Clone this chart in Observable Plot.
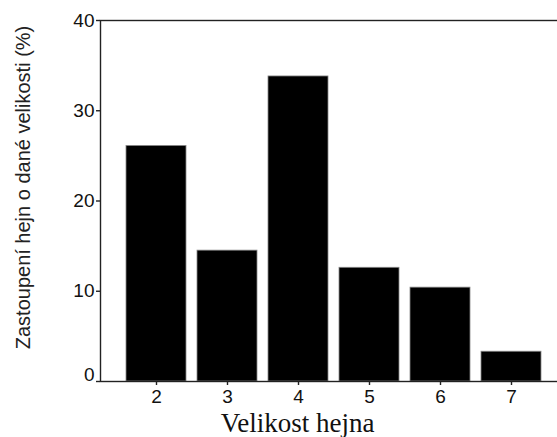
<!DOCTYPE html>
<html>
<head>
<meta charset="utf-8">
<script src="https://cdn.jsdelivr.net/npm/d3@7"></script>
<script src="https://cdn.jsdelivr.net/npm/@observablehq/plot@0.6"></script>
<style>
  html, body { margin: 0; padding: 0; background: #fff; }
</style>
</head>
<body>
<div id="chart"></div>
<script>
const sizes = [2, 3, 4, 5, 6, 7];
const percent = [26.1, 14.5, 33.8, 12.6, 10.4, 3.3];
const yTickValues = [0, 10, 20, 30, 40];
const yLabelTicks = [10, 20, 30, 40];
const yZeroTick = [0];
const xTitle = "Velikost hejna";
const yTitle = "Zastoupení hejn o dané velikosti (%)";

const data = sizes.map((s, i) => ({size: s, value: percent[i]}));

const chart = Plot.plot({
  width: 557,
  height: 437,
  marginTop: 20,
  marginBottom: 56,
  marginLeft: 100,
  marginRight: -3,
  style: {fontFamily: "'Liberation Sans', Arial, sans-serif", fontSize: "19px", color: "#111", background: "#fff"},
  x: {type: "band", domain: sizes, range: [118.3, 548.5], paddingInner: 0.15, paddingOuter: 0.075},
  y: {domain: [0, 40], range: [381, 20]},
  marks: [
    Plot.barY(data, {x: "size", y: "value", fill: "#000", stroke: "#888", strokeWidth: 0.8}),
    Plot.frame({stroke: "#222", strokeWidth: 1.4}),
    Plot.axisY(yTickValues, {tickSize: 4, tickFormat: () => "", label: null, stroke: "#222", strokeWidth: 1.4}),
    Plot.axisY(yLabelTicks, {tickSize: 0, tickPadding: 6, label: null, fontSize: 19}),
    Plot.axisY(yZeroTick, {tickSize: 0, tickPadding: 6, label: null, fontSize: 19, dy: -7}),
    Plot.axisX({tickSize: 4, tickPadding: 4, label: null, fontSize: 19, stroke: "#222", strokeWidth: 1.4}),
    Plot.text([xTitle], {text: d => d, frameAnchor: "bottom", textAnchor: "middle", lineAnchor: "middle", dx: -33, dy: 42,
      fontFamily: "'Liberation Serif', 'Times New Roman', serif", fontSize: 27, fill: "#111"}),
    Plot.text([yTitle], {text: d => d, frameAnchor: "left", textAnchor: "middle", rotate: -90, lineAnchor: "middle", dx: -77, dy: -13.5,
      fontFamily: "'Liberation Sans', Arial, sans-serif", fontSize: 20, fill: "#222"})
  ]
});
document.getElementById("chart").appendChild(chart);
</script>
</body>
</html>
